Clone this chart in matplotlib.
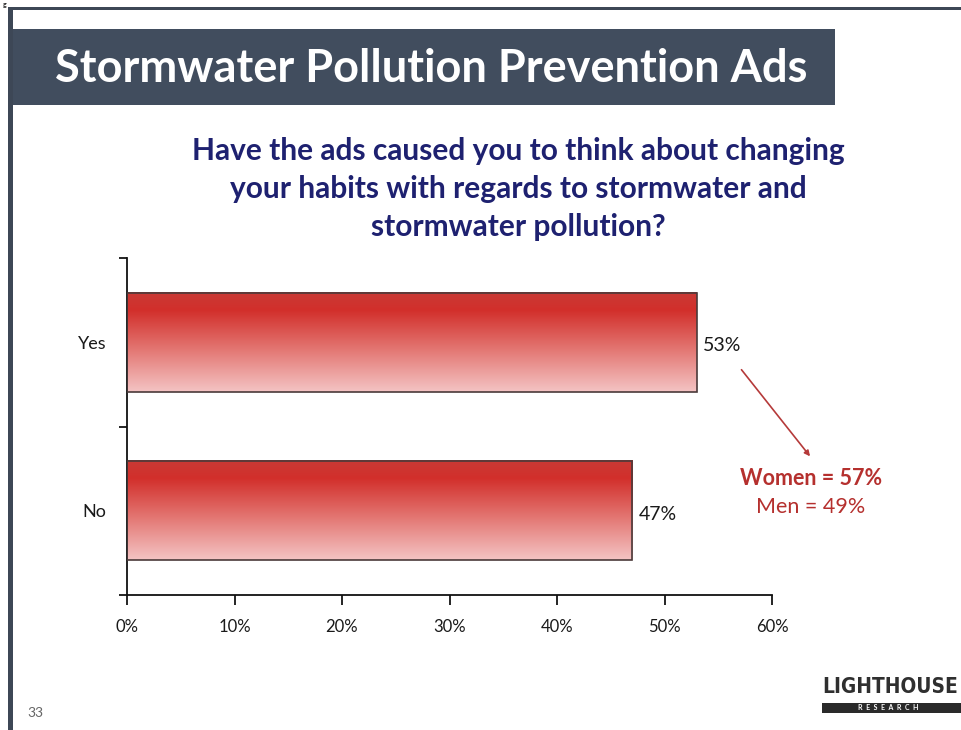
import numpy as np
import matplotlib
matplotlib.use("Agg")
import matplotlib.pyplot as plt
from matplotlib.colors import LinearSegmentedColormap
from matplotlib.patches import Rectangle

# survey answers, bottom to top
answers = ["No", "Yes"]
shares = [47, 53]
x_ticks = [0, 10, 20, 30, 40, 50, 60]
women_yes = 57
men_yes = 49

slide_title = "Stormwater Pollution Prevention Ads"
question = ("Have the ads caused you to think about changing\n"
            "your habits with regards to stormwater and\n"
            "stormwater pollution?")

W, H = 961, 730
fig = plt.figure(figsize=(W / 100, H / 100), dpi=100)
fig.patch.set_facecolor("white")
plt.rcParams["font.family"] = ["Lato", "DejaVu Sans"]


def fit_width(txt, max_px):
    # shrink a text until it is no wider than max_px
    r = fig.canvas.get_renderer()
    w = txt.get_window_extent(r).width
    if w > max_px:
        txt.set_fontsize(txt.get_fontsize() * max_px / w)


# slide frame: dark rule on top and left
fig.add_artist(Rectangle((8 / W, 0), 5 / W, 1 - 8 / H, transform=fig.transFigure,
                         color="#3d4756", lw=0))
fig.add_artist(Rectangle((8 / W, 1 - 10 / H), 1, 3 / H, transform=fig.transFigure,
                         color="#3d4756", lw=0))
fig.text(5 / W, 1 - 8 / H, "g", fontsize=5, fontweight="bold", color="#222222",
         ha="center", va="bottom")

# title banner
fig.add_artist(Rectangle((13 / W, 1 - 105 / H), (835 - 13) / W, 76 / H,
                         transform=fig.transFigure, color="#414d5e", lw=0))
fig.text(431 / W, 1 - 69 / H, slide_title, fontsize=32.5, fontweight="bold",
         color="white", ha="center", va="center")

fig.text(518 / W, 1 - 189 / H, question, fontsize=21.5, fontweight="bold",
         color="#1e2170", ha="center", va="center", linespacing=1.44)

ax = fig.add_axes([127 / W, 1 - 595 / H, (772 - 127) / W, (595 - 258) / H])
ax.set_xlim(0, 60)
ax.set_ylim(-0.5, 1.5)

bars = ax.barh(range(len(answers)), shares, height=0.59, facecolor="none",
               edgecolor="#4a3a3a", linewidth=1.2, zorder=3)

grad = LinearSegmentedColormap.from_list(
    "red_fade", [(0.0, "#c93a35"), (0.18, "#d22f2b"), (0.55, "#e2726e"),
                 (1.0, "#f4c4c4")])
shade = np.linspace(0, 1, 256).reshape(-1, 1)
for b in bars:
    x0, y0 = b.get_x(), b.get_y()
    ax.imshow(shade, cmap=grad, aspect="auto", zorder=2,
              extent=(x0, x0 + b.get_width(), y0, y0 + b.get_height()),
              origin="upper")
ax.set_xlim(0, 60)
ax.set_ylim(-0.5, 1.5)

for i, v in enumerate(shares):
    ax.text(v + 0.6, i - 0.02, f"{v}%", fontsize=14, color="#1a1a1a",
            va="center", ha="left")

ax.set_xticks(x_ticks)
ax.set_xticklabels([f"{t}%" for t in x_ticks], fontsize=12, color="#1a1a1a")
ax.set_yticks(range(len(answers)))
ax.set_yticklabels(answers, fontsize=13, color="#1a1a1a")
ax.set_yticks([-0.5, 0.5, 1.5], minor=True)
ax.tick_params(axis="y", which="major", length=0, pad=15)
ax.tick_params(axis="y", which="minor", length=6, width=1.2, direction="out")
ax.tick_params(axis="x", length=7, width=1.2, direction="out", pad=10)
for s in ["top", "right"]:
    ax.spines[s].set_visible(False)
for s in ["left", "bottom"]:
    ax.spines[s].set_linewidth(1.3)
    ax.spines[s].set_color("#111111")

# gender split for the "Yes" answer
ax.annotate("", xy=(63.7, 0.31), xytext=(57.0, 0.85),
            arrowprops=dict(arrowstyle="-|>", color="#b53a3a", lw=1.2,
                            mutation_scale=8),
            annotation_clip=False)
ax.text(63.6, 0.19, f"Women = {women_yes}%", fontsize=15.5, fontweight="bold",
        color="#b5302e", ha="center", va="center", clip_on=False)
ax.text(63.6, 0.02, f"Men = {men_yes}%", fontsize=15.5, color="#b5302e",
        ha="center", va="center", clip_on=False)

# page number and logo
fig.text(27 / W, 1 - 713 / H, "33", fontsize=10, color="#666666",
         ha="left", va="center")
logo = fig.text(822 / W, 1 - 687 / H, "LIGHTHOUSE", fontsize=26, fontweight="bold",
                family="DejaVu Sans", fontstretch="condensed",
                color="#2f2f2f", ha="left", va="center")
fit_width(logo, 958 - 822)
fig.add_artist(Rectangle((822 / W, 1 - 713 / H), 139 / W, 10 / H,
                         transform=fig.transFigure, color="#2a2a2a", lw=0))
fig.text(888 / W, 1 - 708 / H, "R  E  S  E  A  R  C  H", fontsize=5,
         fontweight="bold", color="white", ha="center", va="center")

fig.savefig("out.png", dpi=100)
